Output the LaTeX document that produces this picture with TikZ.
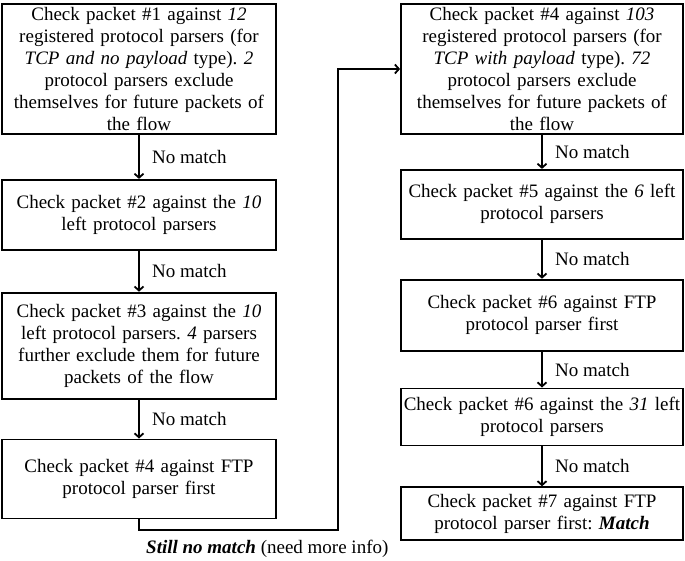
\documentclass[tikz,border=0pt]{standalone}
\usepackage{fontspec}
\setmainfont{Liberation Serif}
\frenchspacing
\usetikzlibrary{positioning,arrows.meta}

\begin{document}
\begin{tikzpicture}[x=1pt,y=-1pt,
		checknode/.style = {draw,line width=1.8pt,align=center,inner xsep=2pt,inner ysep=1pt,font=\fontsize{19}{22}\selectfont},
		leftnode/.style = {checknode,text width=270pt},
		rightnode/.style = {checknode,text width=278pt},
		flow/.style = {-{Straight Barb[length=4pt,width=9pt]},line width=1.8pt},
		matchlabel/.style = {midway,right=9pt,font=\fontsize{19}{22}\selectfont}]
		\useasboundingbox (0,0) rectangle (685,560);
		% left column
		\node [leftnode,minimum height=130pt] (l1) at (139,69) {Check packet \#1 against \textit{12}\\ registered protocol parsers (for\\ \textit{TCP and no payload} type). \textit{2}\\ protocol parsers exclude\\ themselves for future packets of\\ the flow};
		\node [leftnode,minimum height=70pt,below=44pt of l1] (l2) {Check packet \#2 against the \textit{10}\\ left protocol parsers};
		\node [leftnode,minimum height=106pt,below=41pt of l2] (l3) {Check packet \#3 against the \textit{10}\\ left protocol parsers. \textit{4} parsers\\ further exclude them for future\\ packets of the flow};
		\node [leftnode,minimum height=79pt,below=39pt of l3] (l4) {Check packet \#4 against FTP\\ protocol parser first};
		% right column
		\node [rightnode,minimum height=130pt] (r1) at (542,69) {Check packet \#4 against \textit{103}\\ registered protocol parsers (for\\ \textit{TCP with payload} type). \textit{72}\\ protocol parsers exclude\\ themselves for future packets of\\ the flow};
		\node [rightnode,minimum height=69pt,below=34pt of r1] (r2) {Check packet \#5 against the \textit{6} left\\ protocol parsers};
		\node [rightnode,minimum height=71pt,below=39pt of r2] (r3) {Check packet \#6 against FTP\\ protocol parser first};
		\node [rightnode,minimum height=57pt,below=36pt of r3] (r4) {Check packet \#6 against the \textit{31} left\\ protocol parsers};
		\node [rightnode,minimum height=53pt,below=40pt of r4] (r5) {Check packet \#7 against FTP\\ protocol parser first: \textbf{\textit{Match}}};
		% connectors
		\draw [flow] (l1) -- (l2) node [matchlabel] {No match};
		\draw [flow] (l2) -- (l3) node [matchlabel] {No match};
		\draw [flow] (l3) -- (l4) node [matchlabel] {No match};
		\draw [flow] (r1) -- (r2) node [matchlabel] {No match};
		\draw [flow] (r2) -- (r3) node [matchlabel] {No match};
		\draw [flow] (r3) -- (r4) node [matchlabel] {No match};
		\draw [flow] (r4) -- (r5) node [matchlabel] {No match};
		\coordinate (loopx) at (338,530);
		\draw [flow] (l4.south) |- (loopx) |- (r1.west);
		\node [anchor=north west,inner sep=0pt,font=\fontsize{19}{22}\selectfont] (still) at (146,540) {\textbf{\textit{Still no match}} (need more info)};
\end{tikzpicture}
\end{document}
